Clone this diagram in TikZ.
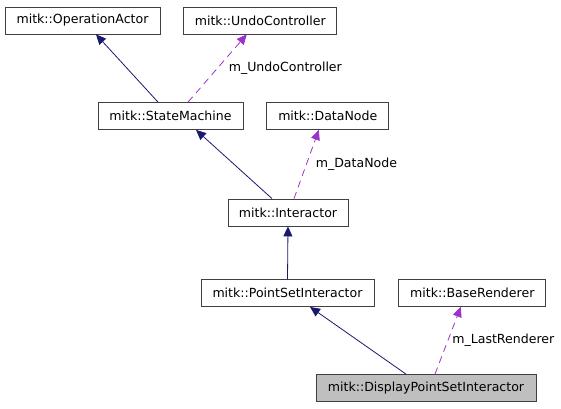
\documentclass[tikz,border=0pt]{standalone}
\usepackage{fontspec}
\setmainfont{DejaVu Sans}
\usetikzlibrary{positioning,arrows.meta}
\definecolor{inhblue}{HTML}{191970}
\definecolor{usepurple}{HTML}{9A32CD}
\definecolor{boxgray}{HTML}{BFBFBF}
\tikzset{
  cls/.style={draw=black!75, line width=0.8bp, fill=white, minimum height=27bp,
    inner sep=0pt, font=\fontsize{12.6}{14}\selectfont},
  inh/.style={color=inhblue, line width=0.8bp},
  use/.style={color=usepurple, line width=0.8bp, dash pattern=on 7bp off 5bp},
  lbl/.style={anchor=west, inner sep=0pt, font=\fontsize{12.6}{14}\selectfont, text=black},
  >={Triangle[length=10bp,width=9bp]}
}
\begin{document}
\begin{tikzpicture}[x=1bp,y=-1bp]
   \useasboundingbox (0,0) rectangle (561,408);
   \node (OA) [cls, minimum width=155bp] at (82.5,20.5) {mitk::OperationActor};
   \node (UC) [cls, minimum width=153bp, right=23bp of OA] {mitk::UndoController};
   \node (SM) [cls, minimum width=145bp] at (170.5,116) {mitk::StateMachine};
   \node (DN) [cls, minimum width=122bp, right=23bp of SM] {mitk::DataNode};
   \node (I) [cls, minimum width=120bp] at (288,212.5) {mitk::Interactor};
   \node (PSI) [cls, minimum width=173bp] at (287.5,293) {mitk::PointSetInteractor};
   \node (BR) [cls, minimum width=147bp, right=24bp of PSI] {mitk::BaseRenderer};
   \node (DPSI) [cls, minimum width=220bp, fill=boxgray] at (426,388) {mitk::DisplayPointSetInteractor};

   \path[->, inh]
     ([xshift=-12.5bp]SM.north) edge ([xshift=13.5bp]OA.south)
     ([xshift=-16bp]I.north) edge ([xshift=25.5bp]SM.south)
     (PSI.north) edge (I.south)
     ([xshift=-20bp]DPSI.north) edge ([xshift=22.5bp]PSI.south);

   \path[->, use]
     ([xshift=17.5bp]SM.north) edge node [lbl, xshift=11bp] {m\_UndoController} ([xshift=-13.5bp]UC.south)
     ([xshift=6bp]I.north) edge node [lbl, xshift=9bp] {m\_DataNode} ([xshift=-9bp]DN.south)
     ([xshift=9bp]DPSI.north) edge node [lbl, xshift=4bp] {m\_LastRenderer} ([xshift=-11.5bp]BR.south);
  \end{tikzpicture}
\end{document}
